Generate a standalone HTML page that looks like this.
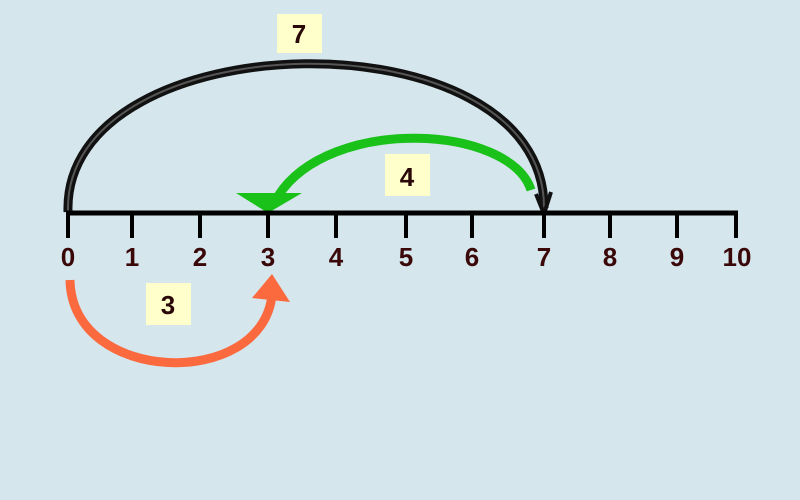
<html><body style="margin:0;width:800px;height:500px;background:#d5e6ed;overflow:hidden;position:relative;font-family:'Liberation Sans',sans-serif">
<svg width="800" height="500" style="position:absolute;left:0;top:0">
<path d="M68,212 C62,20 545,10 544,208" fill="none" stroke="#111" stroke-width="9"/>
<path d="M68,212 C62,20 545,10 544,208" fill="none" stroke="#555" stroke-width="2"/>
<path d="M536,194 L544,214 L551,192" fill="none" stroke="#111" stroke-width="4"/>
<path d="M531,190 C510,125 330,115 278,196" fill="none" stroke="#19c119" stroke-width="9"/>
<polygon points="236,193 302,193 268,213" fill="#19c119"/>
<path d="M70,280 C72,385 262,390 272,295" fill="none" stroke="#fb6a3f" stroke-width="9"/>
<polygon points="252,298 290,302 272,274" fill="#fb6a3f"/>
<line x1="66" y1="213" x2="738" y2="213" stroke="#000" stroke-width="5"/>
<g stroke="#000" stroke-width="4">
<line x1="68" y1="213" x2="68" y2="238"/><line x1="132" y1="213" x2="132" y2="238"/><line x1="200" y1="213" x2="200" y2="238"/><line x1="268" y1="213" x2="268" y2="238"/><line x1="336" y1="213" x2="336" y2="238"/><line x1="406" y1="213" x2="406" y2="238"/><line x1="472" y1="213" x2="472" y2="238"/><line x1="544" y1="213" x2="544" y2="238"/><line x1="610" y1="213" x2="610" y2="238"/><line x1="677" y1="213" x2="677" y2="238"/><line x1="736" y1="211" x2="736" y2="238"/>
</g>
<g font-family="Liberation Sans" font-weight="bold" font-size="26" fill="#3a0808" text-anchor="middle">
<text x="68" y="266">0</text><text x="132" y="266">1</text><text x="200" y="266">2</text><text x="268" y="266">3</text><text x="336" y="266">4</text><text x="406" y="266">5</text><text x="472" y="266">6</text><text x="544" y="266">7</text><text x="610" y="266">8</text><text x="677" y="266">9</text><text x="737" y="266">10</text>
</g>
<rect x="277" y="14" width="45" height="39" fill="#ffffcc"/>
<rect x="385" y="154" width="45" height="42" fill="#ffffcc"/>
<rect x="146" y="283" width="45" height="42" fill="#ffffcc"/>
<g font-family="Liberation Sans" font-weight="bold" font-size="26" fill="#2a0808" text-anchor="middle">
<text x="299" y="43">7</text><text x="407" y="186">4</text><text x="168" y="314">3</text>
</g>
</svg>
</body></html>
